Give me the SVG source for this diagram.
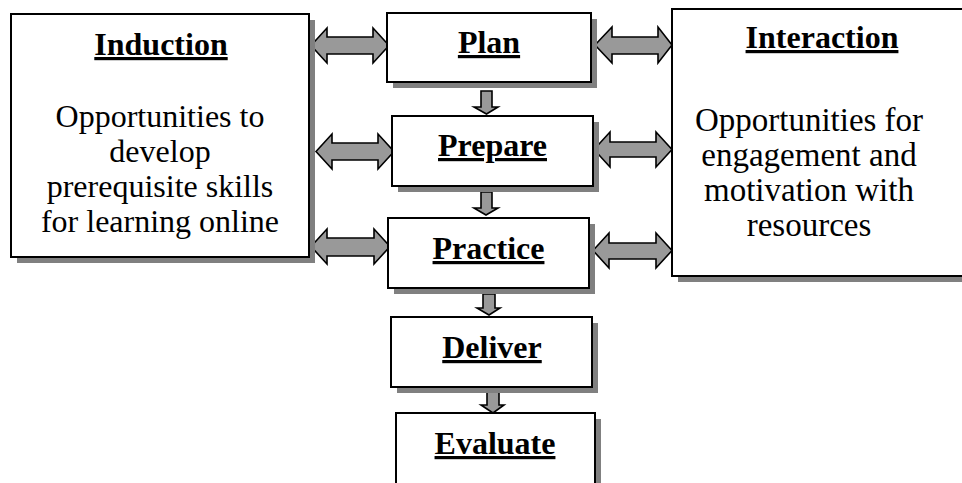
<svg xmlns="http://www.w3.org/2000/svg" width="962" height="483" viewBox="0 0 962 483">
<style>
.box{fill:#ffffff;stroke:#000000;stroke-width:2}
.shadow{fill:#808080;stroke:none}
text{font-family:'Liberation Serif','Tinos','DejaVu Serif',serif;fill:#000;text-anchor:middle;font-size:32px}
.title{font-weight:bold;text-decoration:underline;text-decoration-thickness:3px}
.big{font-size:33px}
.arrow{fill:#999999;stroke:#000000;stroke-width:1.6;stroke-linejoin:miter}
</style>
<rect width="962" height="483" fill="#ffffff"/>
<g id="connectors">
  <polygon class="arrow" points="311,45.5 327,28 327,37 373,37 373,28 389,45.5 373,63 373,54 327,54 327,63"/>
  <polygon class="arrow" points="595,45 612,27 612,37 658,37 658,27 672,45 658,63 658,54 612,54 612,63"/>
  <polygon class="arrow" points="316,151.5 332,134 332,143 378,143 378,134 394,151.5 378,169 378,160 332,160 332,169"/>
  <polygon class="arrow" points="594,149.5 610,132 610,142 656,142 656,132 672,149.5 656,167 656,157 610,157 610,167"/>
  <polygon class="arrow" points="311,246.5 327,229 327,238 374,238 374,229 390,246.5 374,264 374,256 327,256 327,264"/>
  <polygon class="arrow" points="593,250.5 609,233 609,243 656,243 656,233 672,250.5 656,268 656,259 609,259 609,268"/>
  <polygon class="arrow" points="481,91 492,91 492,107 498,107 486.5,114 474,107 481,107"/>
  <polygon class="arrow" points="481,192 492,192 492,208 498,208 486,215 474,208 481,208"/>
  <polygon class="arrow" points="483,294 495,294 495,308 500,308 489,315 477,308 483,308"/>
  <polygon class="arrow" points="487,389 499,389 499,405 504,405 493,413 481,405 487,405"/>
</g>
<g id="induction">
  <rect class="shadow" x="17" y="20" width="298" height="243"/>
  <rect class="box" x="11" y="14" width="298" height="243"/>
  <text class="title" x="161" y="55">Induction</text>
  <text x="160" y="127">Opportunities to</text>
  <text x="160" y="162">develop</text>
  <text x="160" y="197">prerequisite skills</text>
  <text x="160" y="232">for learning online</text>
</g>
<g id="plan">
  <rect class="shadow" x="393" y="19" width="204" height="69"/>
  <rect class="box" x="387" y="13" width="204" height="69"/>
  <text class="title" x="489" y="53">Plan</text>
</g>
<g id="prepare">
  <rect class="shadow" x="398" y="122" width="201" height="70"/>
  <rect class="box" x="392" y="116" width="201" height="70"/>
  <text class="title" x="492.5" y="156">Prepare</text>
</g>
<g id="practice">
  <rect class="shadow" x="394" y="224" width="201" height="70"/>
  <rect class="box" x="388" y="218" width="201" height="70"/>
  <text class="title" x="488.5" y="259">Practice</text>
</g>
<g id="deliver">
  <rect class="shadow" x="397" y="323" width="201" height="70"/>
  <rect class="box" x="391" y="317" width="201" height="70"/>
  <text class="title" x="492" y="358">Deliver</text>
</g>
<g id="evaluate">
  <rect class="shadow" x="402" y="419" width="199" height="80"/>
  <rect class="box" x="396" y="413" width="199" height="80"/>
  <text class="title" x="495" y="454">Evaluate</text>
</g>
<g id="interaction">
  <rect class="shadow" x="678" y="15" width="300" height="267"/>
  <rect class="box" x="672" y="9" width="300" height="267"/>
  <text class="title" x="822" y="48">Interaction</text>
  <text class="big" x="809" y="131">Opportunities for</text>
  <text class="big" x="809" y="166">engagement and</text>
  <text class="big" x="809" y="201">motivation with</text>
  <text class="big" x="809" y="236">resources</text>
</g>
</svg>
